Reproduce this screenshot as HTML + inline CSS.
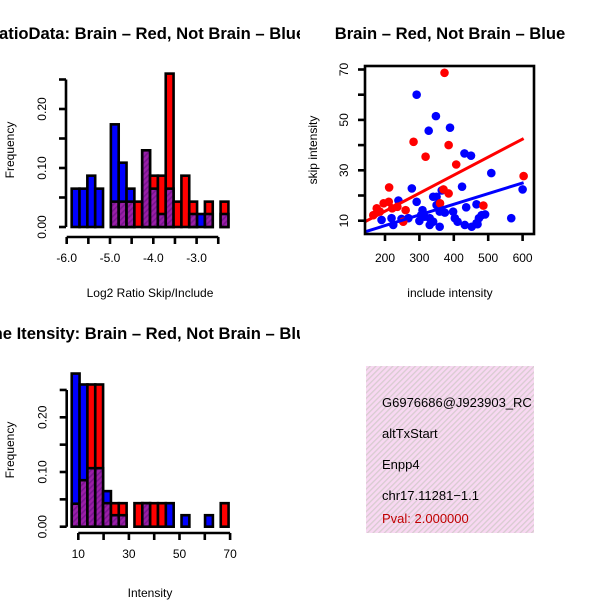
<!DOCTYPE html>
<html><head><meta charset="utf-8"><style>
html,body{margin:0;padding:0;background:#fff;}
svg{display:block;font-family:"Liberation Sans",sans-serif;}
</style></head><body>
<svg id="root" width="600" height="600" viewBox="0 0 600 600" xmlns="http://www.w3.org/2000/svg">
<defs>
<pattern id="hatch" patternUnits="userSpaceOnUse" width="4" height="4" patternTransform="rotate(45)">
<rect width="4" height="4" fill="#9b1fa8"/><rect width="1.6" height="4" fill="#7a1590"/>
</pattern>
<pattern id="pinkhatch" patternUnits="userSpaceOnUse" width="4" height="4" patternTransform="rotate(45)">
<rect width="4" height="4" fill="#f8d8f2"/><rect width="1.3" height="4" fill="#d8ccd0"/>
</pattern>
<clipPath id="clipT1"><rect x="0" y="0" width="300" height="300"/></clipPath>
<clipPath id="clipT2"><rect x="0" y="300" width="300" height="300"/></clipPath>
<clipPath id="clipBox"><rect x="366" y="366" width="168" height="167"/></clipPath>
<clipPath id="clipSc"><rect x="365" y="66" width="169" height="168"/></clipPath>
</defs>
<g id="h1"></g><g id="sc"></g><g id="h2"></g>
<g>
<rect x="366" y="366" width="168" height="167" fill="url(#pinkhatch)"/>
<g clip-path="url(#clipBox)" font-size="13">
<text x="382" y="407">G6976686@J923903_RC</text>
<text x="382" y="438">altTxStart</text>
<text x="382" y="469">Enpp4</text>
<text x="382" y="500">chr17.11281−1.1</text>
<text x="382" y="523" fill="#c00000">Pval: 2.000000</text>
</g></g>
</svg>
<script>
// ---- Histogram 1: Log2 ratio ----
const h1Start = -5.885, h1Width = 0.181;
const h1Blue = [0.065,0.065,0.087,0.065,0,0.174,0.109,0.065,0,0.13,0.065,0.022,0.065,0,0,0.022,0.022,0.022,0,0.022];
const h1Red  = [0,0,0,0,0,0.043,0.043,0.043,0.043,0.13,0.087,0.087,0.26,0.043,0.087,0.043,0,0.043,0,0.043];
const h1XTicks = [-6,-5.5,-5,-4.5,-4,-3.5,-3,-2.5];
const h1XLabels = ["-6.0","","-5.0","","-4.0","","-3.0",""];
const h1YTicks = [0,0.05,0.1,0.15,0.2,0.25];
const h1YLabels = ["0.00","","0.10","","0.20",""];
// ---- Histogram 2: Intensity ----
const h2Start = 7.4, h2Width = 3.1;
const h2Blue = [0.28,0.26,0.107,0.107,0.065,0.021,0.021,0,0,0.043,0,0,0.043,0,0.021,0,0,0.021,0,0];
const h2Red  = [0.042,0.085,0.26,0.26,0.043,0.043,0.043,0,0.043,0.043,0.043,0.043,0,0,0,0,0,0,0,0.043];
const h2XTicks = [10,20,30,40,50,60,70];
const h2XLabels = ["10","","30","","50","","70"];
const h2YTicks = [0,0.05,0.1,0.15,0.2,0.25];
const h2YLabels = ["0.00","","0.10","","0.20",""];
// ---- Scatter ----
const blueX = [292,348,327,389,431,450,509,278,424,292,239,365,340,350,350,466,436,309,359,374,398,403,300,330,330,359,340,219,190,224,248,268,411,432,452,466,473,481,491,469,567,600,305,315];
const blueY = [60,51.5,45.7,46.9,36.7,35.8,28.9,22.8,23.5,17.5,18,22,19.5,19.5,16.2,16.5,15.3,14.2,13.6,13.2,13.6,11,9.9,11,8.3,7.6,9.6,11,10.3,8.3,10.7,11,9.6,8.3,7.6,9,11,12.2,12.5,8.6,11,22.4,12.2,11.6];
const redX = [373,283,385,318,407,603,212,370,360,486,185,166,176,196,211,221,236,260,253,385];
const redY = [68.7,41.3,40,35.4,32.3,27.7,23.2,22.4,16.9,16,13.6,12.2,14.9,16.9,17.5,14.9,15.5,14.2,9.6,20.8];
const redFit = [-0.57, 0.0716];
const blueFit = [-0.4, 0.0423];
const scXTicks = [200,300,400,500,600];
const scYTicks = [10,20,30,40,50,60,70];
const scYLabels = ["10","","30","","50","","70"];

const NS = "http://www.w3.org/2000/svg";
function mk(parent, tag, attrs, text){
  const e = document.createElementNS(NS, tag);
  for (const k in attrs) e.setAttribute(k, attrs[k]);
  if (text !== undefined) e.textContent = text;
  parent.appendChild(e); return e;
}

function hist(g, o){
  const sx = v => o.x0 + (v - o.xmin) * o.kx;
  const sy = v => o.y0 - v * o.ky;
  const lab = mk(g, "text", {x: o.titleX, y: o.titleY, "font-size": 16.6, "font-weight": "bold", "text-anchor": "middle", "clip-path": o.clip}, o.title);
  
  
  for (let i = 0; i < o.blue.length; i++){
    const b = o.blue[i], r = o.red[i];
    const xl = sx(o.start + i * o.width), xr = sx(o.start + (i + 1) * o.width);
    const bars = [];
    if (b >= r){ if (b > 0) bars.push([b, "#0000ff", "blue"]); if (r > 0) bars.push([r, "url(#hatch)", "overlap"]); }
    else { if (r > 0) bars.push([r, "#ff0000", "red"]); if (b > 0) bars.push([b, "url(#hatch)", "overlap"]); }
    bars.forEach(bb => {
      const rc = mk(g, "rect", {x: xl, y: sy(bb[0]), width: xr - xl, height: sy(0) - sy(bb[0]), fill: bb[1], stroke: "#000", "stroke-width": 2.6});
      
      
    });
  }
  const ya = mk(g, "g", {});
  
  
  mk(ya, "line", {x1: o.yAxisX, x2: o.yAxisX, y1: sy(o.yTicks[0]), y2: sy(o.yTicks[o.yTicks.length - 1]), stroke: "#000", "stroke-width": 2.6});
  o.yTicks.forEach((t, i) => {
    mk(ya, "line", {x1: o.yAxisX - 7, x2: o.yAxisX, y1: sy(t), y2: sy(t), stroke: "#000", "stroke-width": 2.6});
    if (o.yLabels[i]) mk(ya, "text", {x: o.yAxisX - 24, y: sy(t), "font-size": 12, "text-anchor": "middle", transform: `rotate(-90 ${o.yAxisX - 24} ${sy(t)})`, dy: 4}, o.yLabels[i]);
  });
  const xa = mk(g, "g", {});
  
  
  mk(xa, "line", {x1: sx(o.xTicks[0]), x2: sx(o.xTicks[o.xTicks.length - 1]), y1: o.xAxisY, y2: o.xAxisY, stroke: "#000", "stroke-width": 2.6});
  o.xTicks.forEach((t, i) => {
    mk(xa, "line", {x1: sx(t), x2: sx(t), y1: o.xAxisY, y2: o.xAxisY + 7, stroke: "#000", "stroke-width": 2.6});
    if (o.xLabels[i]) mk(xa, "text", {x: sx(t), y: o.xAxisY + 25, "font-size": 12, "text-anchor": "middle"}, o.xLabels[i]);
  });
  const yt = mk(g, "text", {x: 14, y: o.yTitleY, "font-size": 12, "text-anchor": "middle", transform: `rotate(-90 14 ${o.yTitleY})`}, "Frequency");
  
  
  const xt = mk(g, "text", {x: 150, y: o.xTitleY, "font-size": 12, "text-anchor": "middle"}, o.xTitle);
  
  
}

const g1 = document.getElementById("h1");


hist(g1, {xmin: -6, x0: 66.7, kx: 43.3, y0: 227, ky: 590, start: h1Start, width: h1Width, blue: h1Blue, red: h1Red,
  xTicks: h1XTicks, xLabels: h1XLabels, yTicks: h1YTicks, yLabels: h1YLabels, yAxisX: 66, xAxisY: 237, clip: "url(#clipT1)",
  title: "Log2 RatioData: Brain – Red, Not Brain – Blue", titleX: 124, titleY: 39, yTitleY: 150, xTitleY: 297, xTitle: "Log2 Ratio Skip/Include"});

const g2 = document.getElementById("h2");


hist(g2, {xmin: 10, x0: 78.3, kx: 2.53, y0: 526.7, ky: 547, start: h2Start, width: h2Width, blue: h2Blue, red: h2Red,
  xTicks: h2XTicks, xLabels: h2XLabels, yTicks: h2YTicks, yLabels: h2YLabels, yAxisX: 66.7, xAxisY: 533, clip: "url(#clipT2)",
  title: "Exon Line Itensity: Brain – Red, Not Brain – Blue", titleX: 124, titleY: 339, yTitleY: 450, xTitleY: 597, xTitle: "Intensity"});

const gs = document.getElementById("sc");


const sX = v => 385 + (v - 200) * 0.344;
const sY = v => 220.7 - (v - 10) * 2.52;
const st = mk(gs, "text", {x: 450, y: 39, "font-size": 16.6, "font-weight": "bold", "text-anchor": "middle"}, "Brain – Red, Not Brain – Blue");


const pts = mk(gs, "g", {"clip-path": "url(#clipSc)"});
blueX.forEach((x, i) => {
  const c = mk(pts, "circle", {cx: sX(x), cy: sY(blueY[i]), r: 4.3, fill: "#0000ff"});
  
  
});
redX.forEach((x, i) => {
  const c = mk(pts, "circle", {cx: sX(x), cy: sY(redY[i]), r: 4.3, fill: "#ff0000"});
  
  
});
[[redFit, "#ff0000", "fit-line-red"], [blueFit, "#0000ff", "fit-line-blue"]].forEach(f => {
  const x1 = 141.9, x2 = 603;
  const l = mk(pts, "line", {x1: sX(x1), x2: sX(x2), y1: sY(f[0][0] + f[0][1] * x1), y2: sY(f[0][0] + f[0][1] * x2), stroke: f[1], "stroke-width": 3});
  
  
});
const box = mk(gs, "rect", {x: 365, y: 66, width: 169, height: 168, fill: "none", stroke: "#000", "stroke-width": 2.6});


const sya = mk(gs, "g", {});


scYTicks.forEach((t, i) => {
  mk(sya, "line", {x1: 358, x2: 365, y1: sY(t), y2: sY(t), stroke: "#000", "stroke-width": 2.6});
  if (scYLabels[i]) mk(sya, "text", {x: 344, y: sY(t), dy: 4, "font-size": 12, "text-anchor": "middle", transform: `rotate(-90 344 ${sY(t)})`}, scYLabels[i]);
});
const sxa = mk(gs, "g", {});


scXTicks.forEach(t => {
  mk(sxa, "line", {x1: sX(t), x2: sX(t), y1: 234, y2: 241, stroke: "#000", "stroke-width": 2.6});
  mk(sxa, "text", {x: sX(t), y: 262, "font-size": 12, "text-anchor": "middle"}, String(t));
});
const syt = mk(gs, "text", {x: 317, y: 150, "font-size": 12, "text-anchor": "middle", transform: "rotate(-90 317 150)"}, "skip intensity");


const sxt = mk(gs, "text", {x: 450, y: 297, "font-size": 12, "text-anchor": "middle"}, "include intensity");


</script>
</body></html>
